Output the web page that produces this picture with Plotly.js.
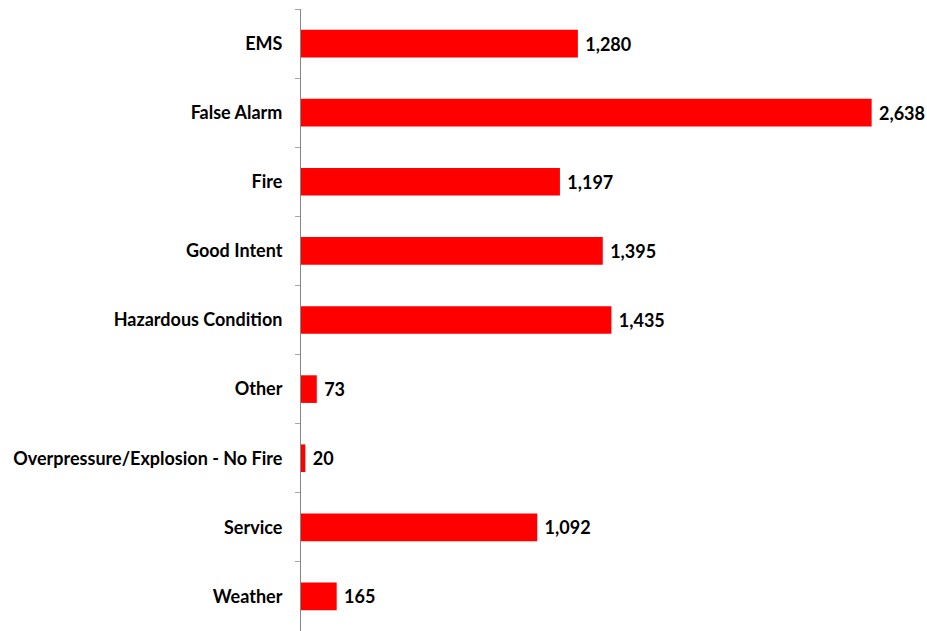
<!DOCTYPE html>
<html>
<head>
<meta charset="utf-8">
<script src="https://cdn.plot.ly/plotly-3.0.1.min.js"></script>
<style>html,body{margin:0;padding:0;background:#fff;}#chart{width:927px;height:631px;}</style>
</head>
<body>
<div id="chart"></div>
<script>
var categories = ["EMS", "False Alarm", "Fire", "Good Intent", "Hazardous Condition", "Other", "Overpressure/Explosion - No Fire", "Service", "Weather"];
var values = [1280, 2638, 1197, 1395, 1435, 73, 20, 1092, 165];
var valueLabels = values.map(function(v){ return "\u00a0" + v.toLocaleString("en-US"); });

var trace = {
  type: "bar",
  orientation: "h",
  y: categories,
  x: values,
  width: 0.4,
  marker: {color: "#ff0000"},
  text: valueLabels,
  textposition: "outside",
  cliponaxis: false,
  textfont: {family: "Lato, sans-serif", size: 18, color: "#000", weight: "bold"},
  hoverinfo: "none"
};

var layout = {
  width: 927,
  height: 631,
  margin: {l: 301, r: 3, t: 9, b: 0},
  paper_bgcolor: "#fff",
  plot_bgcolor: "#fff",
  showlegend: false,
  font: {family: "Lato, sans-serif", size: 18, color: "#000", weight: "bold"},
  xaxis: {range: [0, 2880], visible: false, showgrid: false, zeroline: false, fixedrange: true},
  yaxis: {
    type: "category",
    autorange: "reversed",
    showline: true,
    linecolor: "#868686",
    linewidth: 1,
    ticks: "outside",
    tickson: "boundaries",
    ticklen: 5,
    tickcolor: "#a6a6a6",
    ticklabelstandoff: 14,
    showgrid: false,
    zeroline: false,
    tickfont: {family: "Lato, sans-serif", size: 18, color: "#000", weight: "bold"}
  }
};

Plotly.newPlot("chart", [trace], layout, {displayModeBar: false, staticPlot: true});
</script>
</body>
</html>
